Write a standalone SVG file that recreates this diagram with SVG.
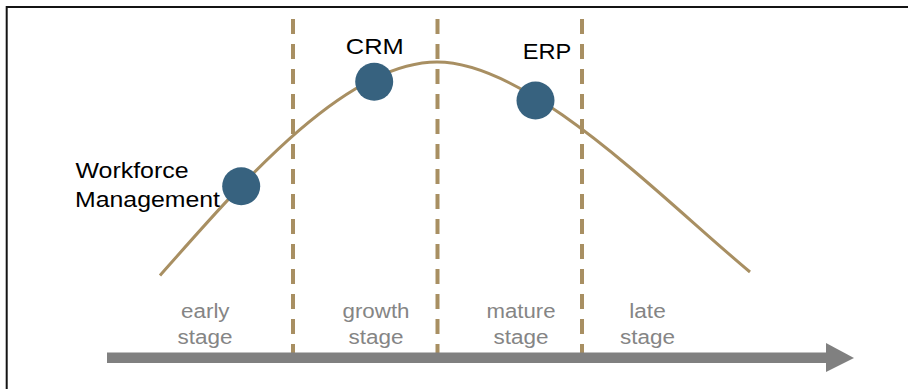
<svg xmlns="http://www.w3.org/2000/svg" width="908" height="389" viewBox="0 0 908 389">
  <style>
    .frame { fill: none; stroke: #141414; stroke-width: 2; }
    .divider { stroke: #a88f62; stroke-width: 4; stroke-dasharray: 15 10; fill: none; }
    .curve { fill: none; stroke: #a88f62; stroke-width: 3; }
    .dot { fill: #37627f; }
    .label { font-family: "Liberation Sans", Arial, sans-serif; font-size: 22px; fill: #000; }
    .stage { font-family: "Liberation Sans", Arial, sans-serif; font-size: 20px; fill: #858585; text-anchor: middle; }
    .axis { fill: #808080; }
  </style>
  <rect width="908" height="389" fill="#ffffff"/>
  <path class="frame" d="M6.7,389 V7 H908"/>

  <!-- stage dividers -->
  <g id="dividers">
    <line class="divider" x1="293" y1="19" x2="293" y2="356"/>
    <line class="divider" x1="437.5" y1="19" x2="437.5" y2="356"/>
    <line class="divider" x1="582" y1="19" x2="582" y2="356"/>
  </g>

  <!-- life-cycle curve -->
  <g id="connectors">
    <path class="curve" d="M160,275.5 C240,185 345,62 437,62 C530,62 660,197 750,272"/>
  </g>

  <!-- time axis -->
  <g id="axis">
    <rect class="axis" x="107" y="352.5" width="720" height="10.5"/>
    <polygon class="axis" points="826,343 854,358 826,372"/>
  </g>

  <!-- stage labels -->
  <g id="stage-early">
    <text class="stage" x="205.3" y="318.3" textLength="48.5" lengthAdjust="spacingAndGlyphs">early</text>
    <text class="stage" x="205" y="344" textLength="55" lengthAdjust="spacingAndGlyphs">stage</text>
  </g>
  <g id="stage-growth">
    <text class="stage" x="376" y="318.3" textLength="67" lengthAdjust="spacingAndGlyphs">growth</text>
    <text class="stage" x="376" y="344" textLength="55" lengthAdjust="spacingAndGlyphs">stage</text>
  </g>
  <g id="stage-mature">
    <text class="stage" x="521" y="318.3" textLength="69" lengthAdjust="spacingAndGlyphs">mature</text>
    <text class="stage" x="521" y="344" textLength="55" lengthAdjust="spacingAndGlyphs">stage</text>
  </g>
  <g id="stage-late">
    <text class="stage" x="647.5" y="318.3" textLength="36.5" lengthAdjust="spacingAndGlyphs">late</text>
    <text class="stage" x="647.5" y="344" textLength="55" lengthAdjust="spacingAndGlyphs">stage</text>
  </g>

  <!-- products on the curve -->
  <g id="node-workforce">
    <circle class="dot" cx="241.2" cy="186.2" r="19"/>
    <text class="label" x="75.5" y="177.7" textLength="113" lengthAdjust="spacingAndGlyphs">Workforce</text>
    <text class="label" x="75" y="207.3" textLength="145" lengthAdjust="spacingAndGlyphs">Management</text>
  </g>
  <g id="node-crm">
    <circle class="dot" cx="374.2" cy="81.7" r="19"/>
    <text class="label" x="345.8" y="54.3" textLength="58" lengthAdjust="spacingAndGlyphs">CRM</text>
  </g>
  <g id="node-erp">
    <circle class="dot" cx="535.5" cy="100.5" r="19"/>
    <text class="label" x="522.8" y="59.3" textLength="48.5" lengthAdjust="spacingAndGlyphs">ERP</text>
  </g>
</svg>
